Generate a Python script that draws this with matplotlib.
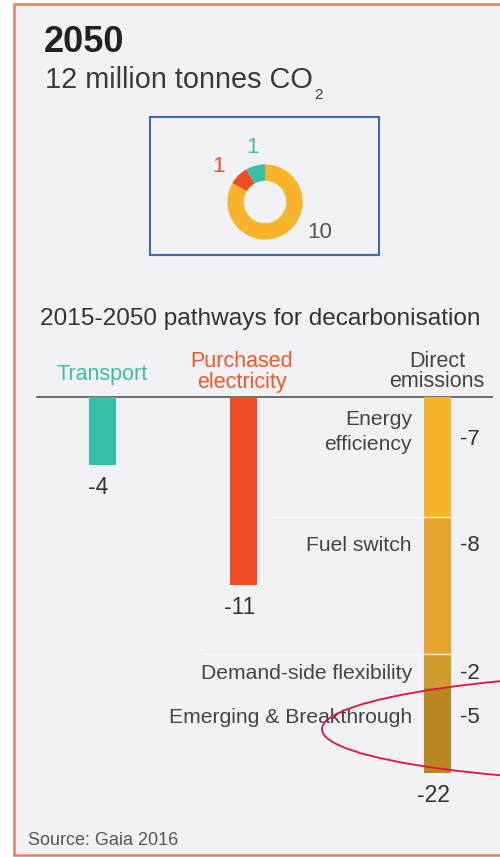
import numpy as np
import matplotlib.pyplot as plt
from matplotlib.patches import Rectangle, Ellipse

plt.rcParams['font.family'] = ['Liberation Sans', 'DejaVu Sans']

W, H = 500, 857

# 2050 residual emissions, million tonnes CO2
donut_values = [1, 1, 10]
donut_colors = ['#34c0a7', '#ef4c24', '#f8b52b']

# 2015-2050 reductions
transport = [-4]
electricity = [-11]
direct_names = ['Energy\nefficiency', 'Fuel switch', 'Demand-side flexibility', 'Emerging & Breakthrough']
direct_values = [-7, -8, -2, -5]
direct_colors = ['#f8b52b', '#e5a42b', '#d09a2d', '#b98621']

UNIT = 17.1      # px per million tonnes
TOP = 397        # px of zero line
bar_x = [102.5, 243.5, 437]
label_base = [425, 551, 679, 723]   # baselines of segment labels (px)


def fx(x):
    return x / W


def fy(y):
    return 1 - y / H


def to_data(y):
    return -(y - TOP) / UNIT


fig = plt.figure(figsize=(5, 8.57), dpi=100)

bg = fig.add_axes([0, 0, 1, 1])
bg.set_xlim(0, W)
bg.set_ylim(H, 0)
bg.axis('off')
bg.add_patch(Rectangle((14, 4), 520, 851, fc='#f2f2f6', ec='#ef7b58', lw=1.8))
bg.add_patch(Rectangle((150, 117), 229, 138, fc='none', ec='#3d6ca8', lw=1.5, zorder=3))

bg.text(44, 52, '2050', fontsize=26, fontweight='bold', color='#222222', va='baseline')
sub = bg.text(45, 88, '12 million tonnes CO', fontsize=20.8, color='#3a3a3a', va='baseline')
fig.canvas.draw()
bb = sub.get_window_extent().transformed(bg.transData.inverted())
bg.text(bb.x1 + 1, 99, '2', fontsize=11, color='#3a3a3a', va='baseline')

bg.text(40, 325, '2015-2050 pathways for decarbonisation', fontsize=17.6, color='#333333', va='baseline')

hdr = 15.5
bg.text(102, 380, 'Transport', fontsize=hdr, color='#3dbfa3', ha='center', va='baseline')
bg.text(242, 367, 'Purchased', fontsize=hdr, color='#f05a28', ha='center', va='baseline')
bg.text(242, 388, 'electricity', fontsize=hdr, color='#f05a28', ha='center', va='baseline')
bg.text(437, 367, 'Direct', fontsize=hdr, color='#444444', ha='center', va='baseline')
bg.text(437, 387, 'emissions', fontsize=hdr, color='#444444', ha='center', va='baseline')
bg.plot([37, 492], [TOP, TOP], color='#555555', lw=1.2)

bg.text(28, 845, 'Source: Gaia 2016', fontsize=13, color='#555555', va='baseline')

# donut
dax = fig.add_axes([fx(265 - 40), fy(202 + 40), 80 / W, 80 / H])
dax.pie(donut_values, colors=donut_colors, startangle=90, counterclock=True,
        radius=0.94, wedgeprops=dict(width=0.41, edgecolor='none'))
dax.set_xlim(-1, 1)
dax.set_ylim(-1, 1)
dax.axis('off')
bg.text(252, 153, str(donut_values[0]), fontsize=16, color='#40bfa5', ha='center', va='baseline')
bg.text(219, 172, str(donut_values[1]), fontsize=16, color='#ef4f2a', ha='center', va='baseline')
bg.text(320, 238, str(donut_values[2]), fontsize=16, color='#555555', ha='center', va='baseline')

# bars
ax = fig.add_axes([fx(38), fy(820), (492 - 38) / W, (820 - TOP) / H])
ax.set_xlim(38, 492)
ax.set_ylim(to_data(820), 0)
ax.axis('off')

ax.bar(bar_x[0], transport[0], width=27, color='#34c0a7')
ax.bar(bar_x[1], electricity[0], width=27, color='#ef4c24')
bottoms = np.concatenate([[0], np.cumsum(direct_values)[:-1]])
ax.bar([bar_x[2]] * len(direct_values), direct_values, bottom=bottoms, width=27, color=direct_colors)

# separators between segments
for b, left in zip(bottoms[1:3], [270, 203]):
    ax.plot([left, 455], [b, b], color='white', lw=1, alpha=0.8)

totals = [sum(transport), sum(electricity), sum(direct_values)]
for x, t in zip(bar_x, totals):
    ax.annotate(str(t), (x - 4, t), xytext=(0, -20.5), textcoords='offset points',
                ha='center', va='baseline', fontsize=16.5, color='#333333')

lab = 15.2
for name, v, base in zip(direct_names, direct_values, label_base):
    lines = name.split('\n')
    for i, ln in enumerate(lines):
        ax.text(412, to_data(base + 25 * i), ln, ha='right', va='baseline',
                fontsize=lab, color='#444444')
    vb = base + 20 if len(lines) > 1 else base
    ax.text(470, to_data(vb), str(v), ha='center', va='baseline', fontsize=16, color='#333333')

# hand-drawn highlight
fg = fig.add_axes([0, 0, 1, 1], zorder=10)
fg.set_xlim(0, W)
fg.set_ylim(H, 0)
fg.axis('off')
fg.patch.set_alpha(0)
fg.add_patch(Ellipse((730, 727), 816, 114, fc='none', ec='#e0143c', lw=1.3, angle=-0.3))

fig.savefig('out.png', dpi=100, facecolor='white')
